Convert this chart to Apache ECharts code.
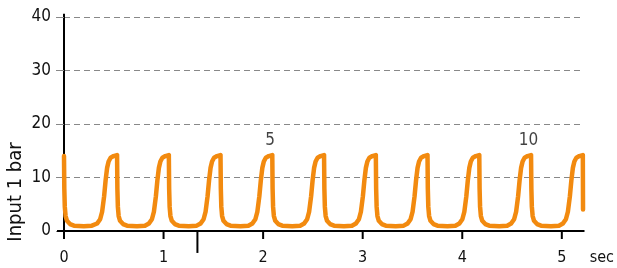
<!DOCTYPE html>
<html>
<head>
<meta charset="utf-8">
<script src="https://cdn.jsdelivr.net/npm/echarts@6/dist/echarts.min.js"></script>
<style>
  html, body { margin: 0; padding: 0; background: #fff; }
  #chart { width: 617px; height: 268px; }
</style>
</head>
<body>
<div id="chart"></div>
<script>
// time axis (sec) and pressure (bar), one pulse per line
const timeSec = [
  0, 0.003, 0.008, 0.016, 0.03, 0.06, 0.10, 0.20, 0.28, 0.333, 0.363, 0.383, 0.403, 0.418, 0.433, 0.448, 0.468, 0.498, 0.533,
  0.536, 0.541, 0.549, 0.563, 0.593, 0.633, 0.733, 0.813, 0.853, 0.883, 0.903, 0.923, 0.938, 0.953, 0.968, 0.988, 1.018, 1.053,
  1.056, 1.061, 1.069, 1.083, 1.113, 1.153, 1.253, 1.333, 1.372, 1.402, 1.422, 1.442, 1.457, 1.472, 1.487, 1.507, 1.537, 1.572,
  1.575, 1.580, 1.588, 1.602, 1.632, 1.672, 1.772, 1.852, 1.892, 1.922, 1.942, 1.962, 1.977, 1.992, 2.007, 2.027, 2.057, 2.092,
  2.095, 2.100, 2.108, 2.122, 2.152, 2.192, 2.292, 2.372, 2.412, 2.442, 2.462, 2.482, 2.497, 2.512, 2.527, 2.547, 2.577, 2.612,
  2.615, 2.620, 2.628, 2.642, 2.672, 2.712, 2.812, 2.892, 2.932, 2.962, 2.982, 3.002, 3.017, 3.032, 3.047, 3.067, 3.097, 3.132,
  3.135, 3.140, 3.148, 3.162, 3.192, 3.232, 3.332, 3.412, 3.451, 3.481, 3.501, 3.521, 3.536, 3.551, 3.566, 3.586, 3.616, 3.651,
  3.654, 3.659, 3.667, 3.681, 3.711, 3.751, 3.851, 3.931, 3.971, 4.001, 4.021, 4.041, 4.056, 4.071, 4.086, 4.106, 4.136, 4.171,
  4.174, 4.179, 4.187, 4.201, 4.231, 4.271, 4.371, 4.451, 4.491, 4.521, 4.541, 4.561, 4.576, 4.591, 4.606, 4.626, 4.656, 4.691,
  4.694, 4.699, 4.707, 4.721, 4.751, 4.791, 4.891, 4.971, 5.011, 5.041, 5.061, 5.081, 5.096, 5.111, 5.126, 5.146, 5.176, 5.211,
  5.213
];
const inputBar = [
  14.0, 8, 4.5, 2.8, 1.9, 1.3, 1.0, 0.9, 1.0, 1.4, 2.2, 3.6, 6.5, 9.5, 11.8, 13.0, 13.7, 14.0, 14.2,
  8, 4.5, 2.8, 1.9, 1.3, 1.0, 0.9, 1.0, 1.4, 2.2, 3.6, 6.5, 9.5, 11.8, 13.0, 13.7, 14.0, 14.2,
  8, 4.5, 2.8, 1.9, 1.3, 1.0, 0.9, 1.0, 1.4, 2.2, 3.6, 6.5, 9.5, 11.8, 13.0, 13.7, 14.0, 14.2,
  8, 4.5, 2.8, 1.9, 1.3, 1.0, 0.9, 1.0, 1.4, 2.2, 3.6, 6.5, 9.5, 11.8, 13.0, 13.7, 14.0, 14.2,
  8, 4.5, 2.8, 1.9, 1.3, 1.0, 0.9, 1.0, 1.4, 2.2, 3.6, 6.5, 9.5, 11.8, 13.0, 13.7, 14.0, 14.2,
  8, 4.5, 2.8, 1.9, 1.3, 1.0, 0.9, 1.0, 1.4, 2.2, 3.6, 6.5, 9.5, 11.8, 13.0, 13.7, 14.0, 14.2,
  8, 4.5, 2.8, 1.9, 1.3, 1.0, 0.9, 1.0, 1.4, 2.2, 3.6, 6.5, 9.5, 11.8, 13.0, 13.7, 14.0, 14.2,
  8, 4.5, 2.8, 1.9, 1.3, 1.0, 0.9, 1.0, 1.4, 2.2, 3.6, 6.5, 9.5, 11.8, 13.0, 13.7, 14.0, 14.2,
  8, 4.5, 2.8, 1.9, 1.3, 1.0, 0.9, 1.0, 1.4, 2.2, 3.6, 6.5, 9.5, 11.8, 13.0, 13.7, 14.0, 14.2,
  8, 4.5, 2.8, 1.9, 1.3, 1.0, 0.9, 1.0, 1.4, 2.2, 3.6, 6.5, 9.5, 11.8, 13.0, 13.7, 14.0, 14.2,
  4.0
];
const xTicks = [0, 1, 2, 3, 4, 5];
// pulse counter labels
const pulseText = ['5', '10'];
const pulseSec = [2.07, 4.665];
const pulseBar = [16.9, 16.9];
// extra marker under the time axis
const markerSec = 1.34;
const markerDepth = -4.1;

const font = '"Liberation Sans Narrow", "DejaVu Sans Condensed", sans-serif';

let myChart = echarts.init(document.getElementById('chart'));
myChart.setOption({
  animation: false,
  grid: { left: 64, right: 31, top: 17, bottom: 37 },
  xAxis: {
    type: 'value',
    min: 0,
    max: 5.22,
    interval: 1,
    name: 'sec',
    nameLocation: 'end',
    nameGap: 6,
    nameTextStyle: { fontFamily: font, fontSize: 16, color: '#111', verticalAlign: 'top', padding: [19, 0, 0, 0] },
    axisLine: { lineStyle: { color: '#000', width: 2 } },
    axisTick: { show: false },
    axisLabel: { customValues: xTicks, margin: 19, fontFamily: font, fontSize: 16, color: '#111' },
    splitLine: { show: false }
  },
  yAxis: {
    type: 'value',
    min: 0,
    max: 40,
    interval: 10,
    axisLine: { show: true, lineStyle: { color: '#000', width: 2 } },
    axisTick: { show: true, length: 8, lineStyle: { color: '#888', width: 1 } },
    axisLabel: { margin: 13, fontFamily: font, fontSize: 17, color: '#111' },
    splitLine: { lineStyle: { color: '#888', width: 1, type: [6, 4] } }
  },
  graphic: [{
    type: 'text',
    x: 16,
    y: 192,
    rotation: Math.PI / 2,
    style: { text: 'Input 1 bar', font: '20px ' + font, fill: '#111', textAlign: 'center', textVerticalAlign: 'middle' }
  }],
  series: [
    {
      type: 'line',
      data: timeSec.map((t, i) => [t, inputBar[i]]),
      showSymbol: false,
      clip: false,
      lineStyle: { color: '#f28a0f', width: 4.5, join: 'round', cap: 'round' }
    },
    {
      type: 'scatter',
      symbolSize: 0,
      data: pulseSec.map((t, i) => [t, pulseBar[i], pulseText[i]]),
      label: {
        show: true,
        position: 'inside',
        formatter: p => p.value[2],
        fontFamily: font,
        fontSize: 17,
        color: '#111'
      }
    },
    {
      // x ticks, the marker below the axis, and the little axis overhangs
      type: 'custom',
      silent: true,
      clip: false,
      data: [0],
      renderItem: (params, api) => {
        const children = [];
        const seg = (a, b, w) => {
          const p = api.coord(a), q = api.coord(b);
          children.push({
            type: 'line',
            shape: { x1: p[0], y1: p[1], x2: q[0], y2: q[1] },
            style: { stroke: '#000', lineWidth: w }
          });
        };
        xTicks.forEach(t => seg([t, 0], [t, -1.5], 2));
        seg([markerSec, 0], [markerSec, markerDepth], 2);
        seg([-0.07, 0], [0, 0], 2);
        seg([0, 40], [0, 40.6], 2);
        return { type: 'group', children: children };
      }
    }
  ]
});
</script>
</body>
</html>
